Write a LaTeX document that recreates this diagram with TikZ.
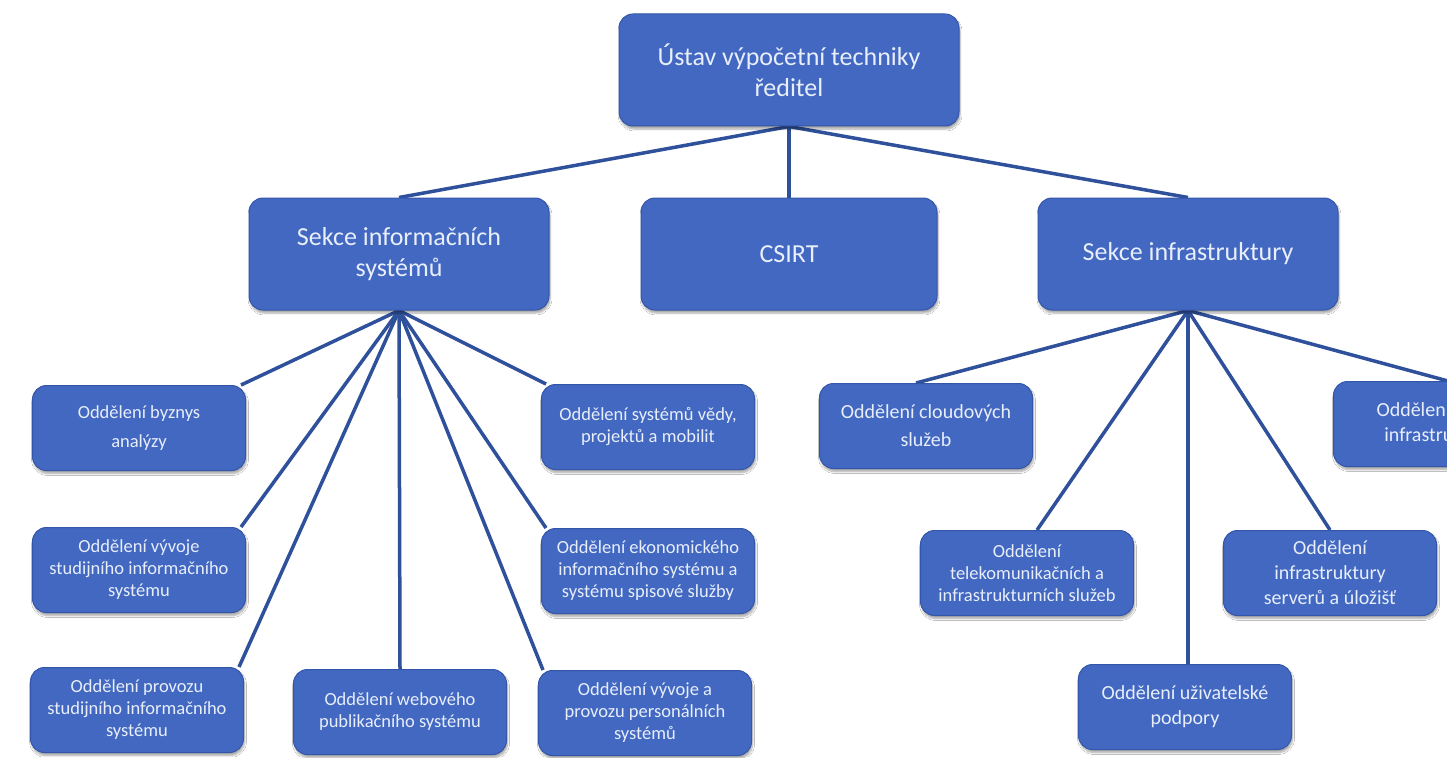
\documentclass[tikz,border=0pt]{standalone}
\usepackage{fontspec}
\setmainfont{Carlito}
\usepackage{tikz}
\usetikzlibrary{shadows.blur}
\usetikzlibrary{backgrounds}

\definecolor{boxblue}{RGB}{66,104,193}
\definecolor{boxedge}{RGB}{52,86,168}
\definecolor{linkblue}{RGB}{47,80,155}
\definecolor{boxtext}{RGB}{232,238,250}

\begin{document}
\begin{tikzpicture} [
    x=1pt, y=-1pt,
    every node/.style = {rectangle, rounded corners=14pt, fill=boxblue, draw=boxedge, line width=1pt,
        text=boxtext, align=center, inner sep=0pt,
        blur shadow={shadow xshift=1pt, shadow yshift=-3pt, shadow blur steps=6, shadow opacity=35}},
    big/.style = {minimum width=300pt, minimum height=112pt, font=\fontsize{26}{31}\selectfont},
    small/.style = {minimum width=213pt, minimum height=85pt, font=\fontsize{18.5}{22}\selectfont},
    mid/.style = {small, font=\fontsize{20}{25}\selectfont},
    link/.style = {draw=linkblue, line width=3.5pt}
]
    \useasboundingbox (0,0) rectangle (1447,757);
    \clip (0,0) rectangle (1447,757);

    \node [big, minimum width=340pt] (ustav) at (789,70) {Ústav výpočetní techniky\\ředitel};
    \node [big] (sis) at (399,254) {Sekce informačních\\systémů};
    \node [big, minimum width=296pt] (csirt) at (789,254) {CSIRT};
    \node [big] (sinf) at (1188,254) {Sekce infrastruktury};

    \node [small] (byznys) at (139,428) {Oddělení byznys\\[7pt]analýzy};
    \node [small] (vyvoj) at (139,570) {Oddělení vývoje\\studijního informačního\\systému};
    \node [small] (provoz) at (137,710) {Oddělení provozu\\studijního informačního\\systému};
    \node [small] (web) at (400,712) {Oddělení webového\\publikačního systému};
    \node [small] (pers) at (645,713) {Oddělení vývoje a\\provozu personálních\\systémů};
    \node [small] (ekon) at (648,571) {Oddělení ekonomického\\informačního systému a\\systému spisové služby};
    \node [small] (veda) at (648,427) {Oddělení systémů vědy,\\projektů a mobilit};

    \node [mid] (cloud) at (926,426) {Oddělení cloudových\\[3pt]služeb};
    \node [small] (telek) at (1027,573) {Oddělení\\telekomunikačních a\\infrastrukturních služeb};
    \node [mid] (uziv) at (1185,707) {Oddělení uživatelské\\podpory};
    \node [mid] (serv) at (1330,573) {Oddělení\\infrastruktury\\serverů a úložišť};
    \node [mid] (sit) at (1440,424) {Oddělení síťové\\infrastruktury};

    \begin{scope}[on background layer]
        \fill[white] (0,0) rectangle (1447,757);
        \draw[link] (ustav.south) -- (sis.north);
        \draw[link] (ustav.south) -- (csirt.north);
        \draw[link] (ustav.south) -- (sinf.north);

        \draw[link] (sis.south) -- ([xshift=-5pt]byznys.north east);
        \draw[link] (sis.south) -- ([xshift=-5pt]vyvoj.north east);
        \draw[link] (sis.south) -- ([xshift=-5pt]provoz.north east);
        \draw[link] (sis.south) -- (web.north);
        \draw[link] (sis.south) -- ([xshift=5pt]pers.north west);
        \draw[link] (sis.south) -- ([xshift=5pt]ekon.north west);
        \draw[link] (sis.south) -- ([xshift=5pt]veda.north west);

        \draw[link] (sinf.south) -- ([xshift=-10pt]cloud.north);
        \draw[link] (sinf.south) -- ([xshift=10pt]telek.north);
        \draw[link] (sinf.south) -- ([xshift=3pt]uziv.north);
        \draw[link] (sinf.south) -- (serv.north);
        \draw[link] (sinf.south) -- ([xshift=8pt]sit.north);
    \end{scope}
\end{tikzpicture}
\end{document}
